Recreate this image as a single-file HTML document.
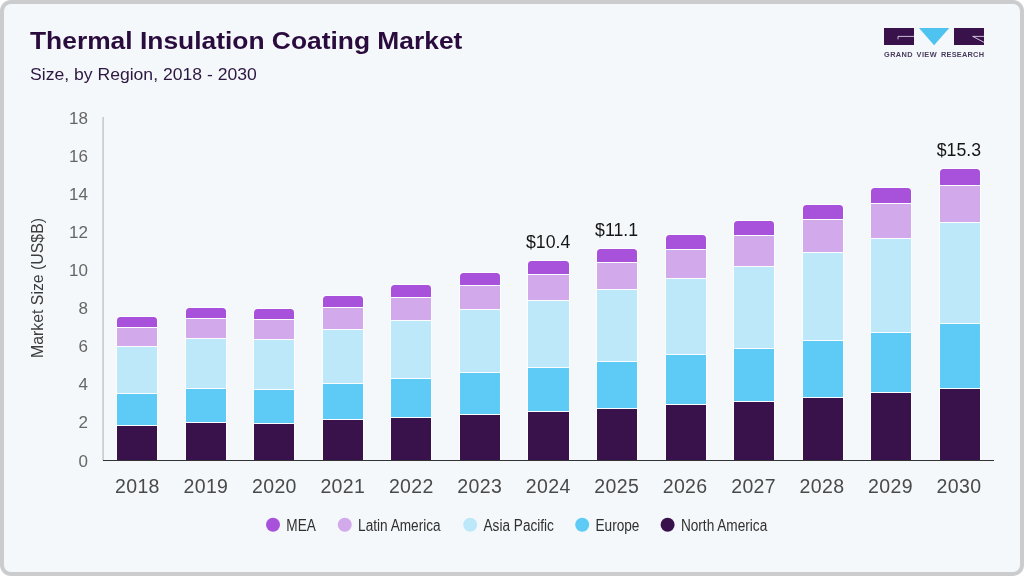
<!DOCTYPE html>
<html lang="en"><head><meta charset="utf-8"><title>Thermal Insulation Coating Market</title>
<style>
html,body{margin:0;padding:0;background:#fff;}
body{width:1024px;height:576px;overflow:hidden;font-family:"Liberation Sans",Arial,Helvetica,sans-serif;}
svg{display:block;}
svg text{font-family:"Liberation Sans",Arial,Helvetica,sans-serif;}
</style></head><body>
<svg width="1024" height="576" viewBox="0 0 1024 576">
<rect x="0" y="0" width="1024" height="576" rx="11" ry="11" fill="#cacccd"/>
<rect x="4" y="4" width="1016" height="568" rx="7" ry="7" fill="#f5f8fb"/>
<text transform="translate(30,49) scale(1.077,1)" font-size="24.5" font-weight="bold" fill="#2a0b3d">Thermal Insulation Coating Market</text>
<text transform="translate(30,79.5) scale(1.066,1)" font-size="16.5" fill="#2d1740">Size, by Region, 2018 - 2030</text>
<g id="logo">
<rect x="884" y="28" width="30" height="17" fill="#39124c"/>
<path d="M914 36.4 H898 V39.3" fill="none" stroke="#f3e9f8" stroke-width="0.8"/>
<polygon points="919,28 949.3,28 934.1,45.3" fill="#4fc3f0"/>
<rect x="954" y="28" width="30" height="17" fill="#39124c"/>
<path d="M984 36.4 H972.7 L984 42.3" fill="none" stroke="#f3e9f8" stroke-width="0.8"/>
<text transform="translate(884,57.2) scale(1.12,1)" font-size="6.6" font-weight="bold" fill="#4a3b5c" letter-spacing="0.35" xml:space="preserve"><tspan x="0">GRAND </tspan><tspan x="29.1">VIEW </tspan><tspan x="50.9" letter-spacing="0.2">RESEARCH</tspan></text>
</g>
<rect x="102.3" y="117" width="1.6" height="343.5" fill="#c6c9cd"/>
<text x="88" y="466.5" font-size="17" text-anchor="end" fill="#666666">0</text>
<text x="88" y="428.4" font-size="17" text-anchor="end" fill="#666666">2</text>
<text x="88" y="390.3" font-size="17" text-anchor="end" fill="#666666">4</text>
<text x="88" y="352.2" font-size="17" text-anchor="end" fill="#666666">6</text>
<text x="88" y="314.1" font-size="17" text-anchor="end" fill="#666666">8</text>
<text x="88" y="275.9" font-size="17" text-anchor="end" fill="#666666">10</text>
<text x="88" y="237.8" font-size="17" text-anchor="end" fill="#666666">12</text>
<text x="88" y="199.7" font-size="17" text-anchor="end" fill="#666666">14</text>
<text x="88" y="161.6" font-size="17" text-anchor="end" fill="#666666">16</text>
<text x="88" y="123.5" font-size="17" text-anchor="end" fill="#666666">18</text>
<text transform="translate(43.3,288) rotate(-90)" font-size="15.85" text-anchor="middle" fill="#3c3c3c">Market Size (US$B)</text>
<path d="M116 460 V320 Q116 316 120 316 H154 Q158 316 158 320 V460 Z" fill="#fcfdfe"/>
<path d="M117 327 V320.5 Q117 317 120.5 317 H153.5 Q157 317 157 320.5 V327 Z" fill="#a852dc"/>
<rect x="117" y="328" width="40" height="18" fill="#d2a9ea"/>
<rect x="117" y="347" width="40" height="46" fill="#bde8f9"/>
<rect x="117" y="394" width="40" height="31" fill="#5ecaf6"/>
<rect x="117" y="426" width="40" height="34" fill="#39124c"/>
<text x="137.4" y="493" font-size="19.5" letter-spacing="0.35" text-anchor="middle" fill="#4a4a4a">2018</text>
<path d="M185 460 V311 Q185 307 189 307 H223 Q227 307 227 311 V460 Z" fill="#fcfdfe"/>
<path d="M186 318 V311.5 Q186 308 189.5 308 H222.5 Q226 308 226 311.5 V318 Z" fill="#a852dc"/>
<rect x="186" y="319" width="40" height="19" fill="#d2a9ea"/>
<rect x="186" y="339" width="40" height="49" fill="#bde8f9"/>
<rect x="186" y="389" width="40" height="33" fill="#5ecaf6"/>
<rect x="186" y="423" width="40" height="37" fill="#39124c"/>
<text x="205.9" y="493" font-size="19.5" letter-spacing="0.35" text-anchor="middle" fill="#4a4a4a">2019</text>
<path d="M253 460 V312 Q253 308 257 308 H291 Q295 308 295 312 V460 Z" fill="#fcfdfe"/>
<path d="M254 319 V312.5 Q254 309 257.5 309 H290.5 Q294 309 294 312.5 V319 Z" fill="#a852dc"/>
<rect x="254" y="320" width="40" height="19" fill="#d2a9ea"/>
<rect x="254" y="340" width="40" height="49" fill="#bde8f9"/>
<rect x="254" y="390" width="40" height="33" fill="#5ecaf6"/>
<rect x="254" y="424" width="40" height="36" fill="#39124c"/>
<text x="274.4" y="493" font-size="19.5" letter-spacing="0.35" text-anchor="middle" fill="#4a4a4a">2020</text>
<path d="M322 460 V299 Q322 295 326 295 H360 Q364 295 364 299 V460 Z" fill="#fcfdfe"/>
<path d="M323 307 V299.5 Q323 296 326.5 296 H359.5 Q363 296 363 299.5 V307 Z" fill="#a852dc"/>
<rect x="323" y="308" width="40" height="21" fill="#d2a9ea"/>
<rect x="323" y="330" width="40" height="53" fill="#bde8f9"/>
<rect x="323" y="384" width="40" height="35" fill="#5ecaf6"/>
<rect x="323" y="420" width="40" height="40" fill="#39124c"/>
<text x="342.8" y="493" font-size="19.5" letter-spacing="0.35" text-anchor="middle" fill="#4a4a4a">2021</text>
<path d="M390 460 V288 Q390 284 394 284 H428 Q432 284 432 288 V460 Z" fill="#fcfdfe"/>
<path d="M391 297 V288.5 Q391 285 394.5 285 H427.5 Q431 285 431 288.5 V297 Z" fill="#a852dc"/>
<rect x="391" y="298" width="40" height="22" fill="#d2a9ea"/>
<rect x="391" y="321" width="40" height="57" fill="#bde8f9"/>
<rect x="391" y="379" width="40" height="38" fill="#5ecaf6"/>
<rect x="391" y="418" width="40" height="42" fill="#39124c"/>
<text x="411.3" y="493" font-size="19.5" letter-spacing="0.35" text-anchor="middle" fill="#4a4a4a">2022</text>
<path d="M459 460 V276 Q459 272 463 272 H497 Q501 272 501 276 V460 Z" fill="#fcfdfe"/>
<path d="M460 285 V276.5 Q460 273 463.5 273 H496.5 Q500 273 500 276.5 V285 Z" fill="#a852dc"/>
<rect x="460" y="286" width="40" height="23" fill="#d2a9ea"/>
<rect x="460" y="310" width="40" height="62" fill="#bde8f9"/>
<rect x="460" y="373" width="40" height="41" fill="#5ecaf6"/>
<rect x="460" y="415" width="40" height="45" fill="#39124c"/>
<text x="479.7" y="493" font-size="19.5" letter-spacing="0.35" text-anchor="middle" fill="#4a4a4a">2023</text>
<path d="M527 460 V264 Q527 260 531 260 H566 Q570 260 570 264 V460 Z" fill="#fcfdfe"/>
<path d="M528 274 V264.5 Q528 261 531.5 261 H565.5 Q569 261 569 264.5 V274 Z" fill="#a852dc"/>
<rect x="528" y="275" width="41" height="25" fill="#d2a9ea"/>
<rect x="528" y="301" width="41" height="66" fill="#bde8f9"/>
<rect x="528" y="368" width="41" height="43" fill="#5ecaf6"/>
<rect x="528" y="412" width="41" height="48" fill="#39124c"/>
<text x="548.2" y="493" font-size="19.5" letter-spacing="0.35" text-anchor="middle" fill="#4a4a4a">2024</text>
<path d="M596 460 V252 Q596 248 600 248 H634 Q638 248 638 252 V460 Z" fill="#fcfdfe"/>
<path d="M597 262 V252.5 Q597 249 600.5 249 H633.5 Q637 249 637 252.5 V262 Z" fill="#a852dc"/>
<rect x="597" y="263" width="40" height="26" fill="#d2a9ea"/>
<rect x="597" y="290" width="40" height="71" fill="#bde8f9"/>
<rect x="597" y="362" width="40" height="46" fill="#5ecaf6"/>
<rect x="597" y="409" width="40" height="51" fill="#39124c"/>
<text x="616.7" y="493" font-size="19.5" letter-spacing="0.35" text-anchor="middle" fill="#4a4a4a">2025</text>
<path d="M665 460 V238 Q665 234 669 234 H703 Q707 234 707 238 V460 Z" fill="#fcfdfe"/>
<path d="M666 249 V238.5 Q666 235 669.5 235 H702.5 Q706 235 706 238.5 V249 Z" fill="#a852dc"/>
<rect x="666" y="250" width="40" height="28" fill="#d2a9ea"/>
<rect x="666" y="279" width="40" height="75" fill="#bde8f9"/>
<rect x="666" y="355" width="40" height="49" fill="#5ecaf6"/>
<rect x="666" y="405" width="40" height="55" fill="#39124c"/>
<text x="685.1" y="493" font-size="19.5" letter-spacing="0.35" text-anchor="middle" fill="#4a4a4a">2026</text>
<path d="M733 460 V224 Q733 220 737 220 H771 Q775 220 775 224 V460 Z" fill="#fcfdfe"/>
<path d="M734 235 V224.5 Q734 221 737.5 221 H770.5 Q774 221 774 224.5 V235 Z" fill="#a852dc"/>
<rect x="734" y="236" width="40" height="30" fill="#d2a9ea"/>
<rect x="734" y="267" width="40" height="81" fill="#bde8f9"/>
<rect x="734" y="349" width="40" height="52" fill="#5ecaf6"/>
<rect x="734" y="402" width="40" height="58" fill="#39124c"/>
<text x="753.6" y="493" font-size="19.5" letter-spacing="0.35" text-anchor="middle" fill="#4a4a4a">2027</text>
<path d="M802 460 V208 Q802 204 806 204 H840 Q844 204 844 208 V460 Z" fill="#fcfdfe"/>
<path d="M803 219 V208.5 Q803 205 806.5 205 H839.5 Q843 205 843 208.5 V219 Z" fill="#a852dc"/>
<rect x="803" y="220" width="40" height="32" fill="#d2a9ea"/>
<rect x="803" y="253" width="40" height="87" fill="#bde8f9"/>
<rect x="803" y="341" width="40" height="56" fill="#5ecaf6"/>
<rect x="803" y="398" width="40" height="62" fill="#39124c"/>
<text x="822.0" y="493" font-size="19.5" letter-spacing="0.35" text-anchor="middle" fill="#4a4a4a">2028</text>
<path d="M870 460 V191 Q870 187 874 187 H908 Q912 187 912 191 V460 Z" fill="#fcfdfe"/>
<path d="M871 203 V191.5 Q871 188 874.5 188 H907.5 Q911 188 911 191.5 V203 Z" fill="#a852dc"/>
<rect x="871" y="204" width="40" height="34" fill="#d2a9ea"/>
<rect x="871" y="239" width="40" height="93" fill="#bde8f9"/>
<rect x="871" y="333" width="40" height="59" fill="#5ecaf6"/>
<rect x="871" y="393" width="40" height="67" fill="#39124c"/>
<text x="890.5" y="493" font-size="19.5" letter-spacing="0.35" text-anchor="middle" fill="#4a4a4a">2029</text>
<path d="M939 460 V172 Q939 168 943 168 H977 Q981 168 981 172 V460 Z" fill="#fcfdfe"/>
<path d="M940 185 V172.5 Q940 169 943.5 169 H976.5 Q980 169 980 172.5 V185 Z" fill="#a852dc"/>
<rect x="940" y="186" width="40" height="36" fill="#d2a9ea"/>
<rect x="940" y="223" width="40" height="100" fill="#bde8f9"/>
<rect x="940" y="324" width="40" height="64" fill="#5ecaf6"/>
<rect x="940" y="389" width="40" height="71" fill="#39124c"/>
<text x="959.0" y="493" font-size="19.5" letter-spacing="0.35" text-anchor="middle" fill="#4a4a4a">2030</text>
<rect x="103" y="460" width="891" height="1" fill="#333333"/>
<text x="548.1" y="247.8" font-size="17.7" text-anchor="middle" fill="#161616">$10.4</text>
<text x="616.6" y="235.8" font-size="17.7" text-anchor="middle" fill="#161616">$11.1</text>
<text x="958.9" y="155.8" font-size="17.7" text-anchor="middle" fill="#161616">$15.3</text>
<circle cx="273" cy="524.7" r="7" fill="#a852dc"/>
<text transform="translate(286.3,530.8) scale(0.874,1)" font-size="15.6" fill="#303030">MEA</text>
<circle cx="344.75" cy="524.7" r="7" fill="#d2a9ea"/>
<text transform="translate(358.1,530.8) scale(0.874,1)" font-size="15.6" fill="#303030">Latin America</text>
<circle cx="470.2" cy="524.7" r="7" fill="#bde8f9"/>
<text transform="translate(483.5,530.8) scale(0.874,1)" font-size="15.6" fill="#303030">Asia Pacific</text>
<circle cx="582.2" cy="524.7" r="7" fill="#5ecaf6"/>
<text transform="translate(595.5,530.8) scale(0.874,1)" font-size="15.6" fill="#303030">Europe</text>
<circle cx="667.6" cy="524.7" r="7" fill="#39124c"/>
<text transform="translate(680.9,530.8) scale(0.874,1)" font-size="15.6" fill="#303030">North America</text>
</svg>
</body></html>
